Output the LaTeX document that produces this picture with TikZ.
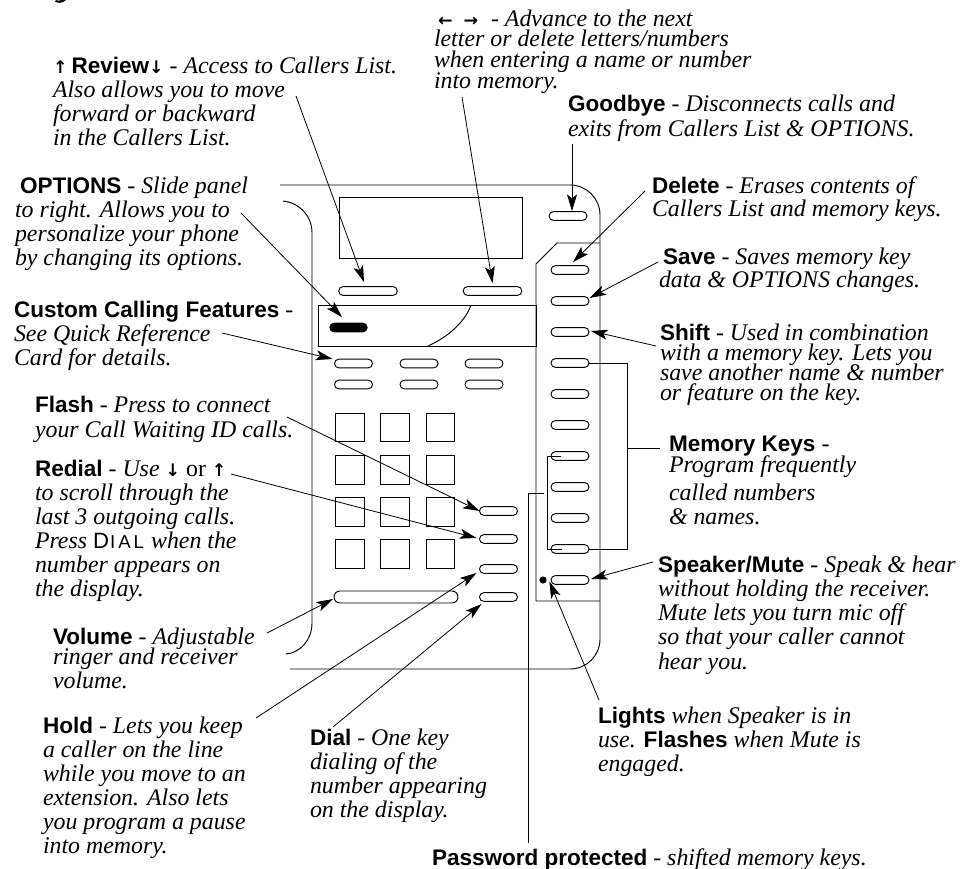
\documentclass[tikz,border=0pt]{standalone}
\usepackage{fontspec}
\setmainfont{Liberation Serif}
\setsansfont{Liberation Sans}
\newfontfamily\arrowfont{DejaVu Sans}
\usetikzlibrary{arrows.meta,shapes.misc}
\newdimen\pxu \pxu=.75pt
\newcommand\bodyfont{\fontsize{17.9}{20}\selectfont\itshape}
\newcommand\Bf[1]{{\fontsize{16.9}{20}\selectfont\sffamily\bfseries\upshape #1}}
\newcommand\Ar[1]{{\fontsize{13}{20}\selectfont\arrowfont\bfseries\upshape #1}}
\newcommand\Ln[2][0]{\hbox{\kern#1\pxu\relax #2}}
\newcommand\Gp[1]{\baselineskip=#1\pxu\relax}
\newcommand\blk[5]{\node[txt] (#1) at (#2,#3) {\bodyfont\vtop{\lineskiplimit=-100pt\baselineskip=#4\pxu\relax #5}};}
\tikzset{
 txt/.style={anchor=base west,inner sep=0pt,outer sep=0pt},
 ln/.style={draw=black,line width=.7pt},
 arr/.style={color=black,line width=.6pt,-{Stealth[length=12.5pt,width=7.5pt,inset=3pt,fill=black]}},
 pillbase/.style={rounded rectangle,rounded rectangle arc length=180,draw=black,line width=.7pt,inner sep=0pt,outer sep=0pt,minimum height=6.6pt},
 keyl/.style={pillbase,minimum width=44pt},
 keys/.style={pillbase,minimum width=28.5pt},
 keyv/.style={pillbase,minimum width=93pt,minimum height=9pt},
 keyk/.style={pillbase,minimum width=28pt,fill=black},
 padk/.style={draw=black,line width=.7pt,inner sep=0pt,outer sep=0pt,minimum size=21.5pt},
 lamp/.style={circle,fill=black,inner sep=0pt,minimum size=5.4pt}
}
\begin{document}
\begin{tikzpicture}[x=0.75pt,y=-0.75pt]
\useasboundingbox (0,0) rectangle (960,868);
% clipped fragment at the top edge
\fill (55,1.5) .. controls (58,3.5) and (62,3.5) .. (66,0) -- (61,0) .. controls (60,1) and (58,1) .. (56,0) -- cycle;
% phone body
\draw[ln] (280,185) -- (570,185) .. controls (586.6,185) and (600,198.4) .. (600,215) -- (600,639) .. controls (600,655.6) and (586.6,669) .. (570,669) -- (290,669);
\draw[ln] (283,201) .. controls (300,203) and (312,216) .. (312,233) -- (312,623) .. controls (312,640) and (300,653) .. (286,654);
\draw[ln] (339,197) rectangle (522,258);
\draw[ln] (318,305) rectangle (536,346);
\draw[ln] (471,305) .. controls (465,322) and (448,337) .. (428,346);
\draw[ln] (600,243) -- (557,243) -- (536,264) -- (536,601) -- (600,601);
% keys
\node[keyl] (kRev) at (368,291) {};
\node[keyl] (kLR) at (492.5,291) {};
\node[keys] (kBye) at (568,216) {};
\node[keyk] (kBlack) at (348.5,327.5) {};
\foreach \n/\x/\y in {a1/353.5/363.5,a2/419/363.5,a3/484/363.5,b1/353.5/384.5,b2/419/384.5,b3/484/384.5}
  \node[keys] (k\n) at (\x,\y) {};
\foreach \n/\y in {1/270,2/301,3/332,4/363,5/394,6/425,7/456,8/487,9/518,10/549,11/580}
  \node[keys] (m\n) at (570,\y) {};
\foreach \n/\y in {Flash/511,Redial/539,Hold/569,Dial/597}
  \node[keys] (k\n) at (498.5,\y) {};
\node[keyv] (kVol) at (396,597) {};
\foreach \r/\y in {1/427.5,2/470,3/512,4/554}
  \foreach \c/\x in {1/350,2/395,3/440.5}
    \node[padk] (p\r\c) at (\x,\y) {};
\node[lamp] (lamp) at (543,580) {};
% brackets
\coordinate (memTail) at (660,448);
\coordinate (pwTail) at (528,843);
\draw[ln] (m4.east) -- (627,363) -- (627,549) -- (m10.east);
\draw[ln] (627,448) -- (memTail);
\draw[ln] ([xshift=10\pxu]m7.west) -- (547,456) -- (547,549) -- ([xshift=11\pxu]m10.west);
\draw[ln] (544,493) -- (528,493) -- (pwTail);
% labels
\blk{tRev}{53}{73}{24}{\Ln{\Ar{↑}\kern4\pxu\Bf{Review}\Ar{↓} - Access to Callers List.}\Ln{Also allows you to move}\Ln{forward or backward}\Ln{in the Callers List.}}
\blk{tArrows}{434}{26}{20.7}{\Ln[4]{\Ar{←}\kern11\pxu\Ar{→}\kern13\pxu- Advance to the next}\Ln{letter or delete letters/numbers}\Ln{when entering a name or number}\Ln{into memory.}}
\blk{tOpt}{15}{193}{24.3}{\Ln[5]{\Bf{OPTIONS} - Slide panel}\Ln{to right. Allows you to}\Ln{personalize your phone}\Ln{by changing its options.}}
\blk{tBye}{568}{111}{25}{\Ln{\Bf{Goodbye} - Disconnects calls and}\Ln{exits from Callers List \& OPTIONS.}}
\blk{tDel}{652}{193}{23}{\Ln{\Bf{Delete} - Erases contents of}\Ln{Callers List and memory keys.}}
\blk{tSave}{659}{264}{23}{\Ln[4]{\Bf{Save} - Saves memory key}\Ln{data \& OPTIONS changes.}}
\blk{tShift}{660}{340}{20}{\Ln{\Bf{Shift} - Used in combination}\Ln{with a memory key. Lets you}\Ln{save another name \& number}\Ln{or feature on the key.}}
\blk{tMem}{669}{451}{21}{\Ln{\Bf{Memory Keys} -}\Ln{Program frequently}\Gp{28}\Ln{called numbers}\Gp{24}\Ln{\& names.}}
\blk{tSpk}{658}{572}{24.3}{\Ln{\Bf{Speaker/Mute} - Speak \& hear}\Ln{without holding the receiver.}\Ln{Mute lets you turn mic off}\Ln{so that your caller cannot}\Ln{hear you.}}
\blk{tLights}{598}{723}{24}{\Ln{\Bf{Lights} when Speaker is in}\Ln{use. \Bf{Flashes} when Mute is}\Ln{engaged.}}
\blk{tPw}{432}{865}{24}{\Ln{\Bf{Password protected} - shifted memory keys.}}
\blk{tDial}{310}{745}{24.3}{\Ln{\Bf{Dial} - One key}\Ln{dialing of the}\Ln{number appearing}\Ln{on the display.}}
\blk{tHold}{43}{733}{24}{\Ln{\Bf{Hold} - Lets you keep}\Ln{a caller on the line}\Ln{while you move to an}\Ln{extension. Also lets}\Ln{you program a pause}\Ln{into memory.}}
\blk{tVol}{53}{644}{20}{\Ln{\Bf{Volume} - Adjustable}\Ln{ringer and receiver}\Gp{24}\Ln{volume.}}
\blk{tCust}{14}{317}{24}{\Ln{\Bf{Custom Calling Features} -}\Ln{See Quick Reference}\Ln{Card for details.}}
\blk{tFlash}{35}{412}{25}{\Ln{\Bf{Flash} - Press to connect}\Ln{your Call Waiting ID calls.}}
\blk{tRedial}{35}{476}{24}{\Ln{\Bf{Redial} - Use \Ar{↓} {\upshape or} \Ar{↑}}\Ln{to scroll through the}\Ln{last 3 outgoing calls.}\Ln{Press {\upshape\sffamily\fontsize{16.6}{20}\selectfont D\fontsize{14}{20}\selectfont\kern1\pxu I\kern3\pxu A\kern3\pxu L\kern1\pxu} when the}\Ln{number appears on}\Ln{the display.}}
% arrow tails
\coordinate (aRev) at (296,96);
\coordinate (aLR) at (462,97);
\coordinate (aBye) at (572,144);
\coordinate (aDel) at (645,191);
\coordinate (aSave) at (658,262);
\coordinate (aShift) at (656,346);
\coordinate (aSpk) at (653,562);
\coordinate (aLights) at (599,700);
\coordinate (aOpt) at (241,213);
\coordinate (aCust) at (222,333);
\coordinate (aFlash) at (287,417);
\coordinate (aRedial) at (231,474);
\coordinate (aVol) at (267,633);
\coordinate (aHold) at (256,718);
\coordinate (aDial) at (333,727);
% arrows
\draw[arr] (aRev) -- ([shift={(-4,-4.5)}]kRev.north);
\draw[arr] (aLR) -- ([shift={(0,-3.5)}]kLR.north);
\draw[arr] (aBye) -- ([shift={(4,-0.5)}]kBye.north);
\draw[arr] (aDel) -- ([shift={(3,-3.5)}]m1.north);
\draw[arr] (aSave) -- ([shift={(0.5,-3)}]m2.east);
\draw[arr] (aShift) -- ([shift={(2,-1)}]m3.east);
\draw[arr] (aSpk) -- ([shift={(2,-1)}]m11.east);
\draw[arr] (aLights) -- ([shift={(2.5,1.5)}]lamp.east);
\draw[arr] (aOpt) -- ([shift={(-6.5,-6)}]kBlack.north);
\draw[arr] (aCust) -- ([shift={(-2,-4.5)}]ka1.west);
\draw[arr] (aFlash) -- (kFlash.west);
\draw[arr] (aRedial) -- ([shift={(-3,-1)}]kRedial.west);
\draw[arr] (aVol) -- ([shift={(-1,2)}]kVol.west);
\draw[arr] (aHold) -- ([shift={(-3,4)}]kHold.west);
\draw[arr] (aDial) -- ([shift={(2,7)}]kDial.west);
\end{tikzpicture}
\end{document}
